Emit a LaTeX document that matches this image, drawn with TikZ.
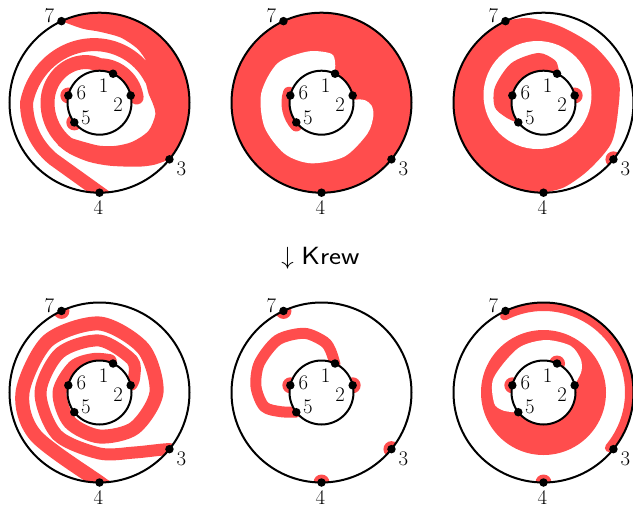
\documentclass[tikz,border=0pt]{standalone}
\usepackage{tikz}
\usepackage{graphicx}
\usepackage{xcolor}

\definecolor{blockred}{RGB}{255,77,77}

\tikzset{
  ring/.style={line width=2pt},
  pt/.style={circle,fill=black,inner sep=0pt,minimum size=8.5pt},
  lbl/.style={font=\huge,inner sep=0pt},
  blk/.style={fill=blockred},
  bump/.style={fill=blockred},
  band/.style={draw=blockred,line width=#1,line cap=round,line join=round},
}

% the annulus with its seven marked points
\newcommand{\annframe}[1]{%
  \fill[white] (0,0) circle (32);
  \draw[ring] (0,0) circle (90);
  \draw[ring] (0,0) circle (32);
  \node[pt] (#1-7) at (115:90) {};
  \node[pt] (#1-3) at (-39:90) {};
  \node[pt] (#1-4) at (-90:90) {};
  \node[pt] (#1-1) at (65:32) {};
  \node[pt] (#1-2) at (13:32) {};
  \node[pt] (#1-6) at (167:32) {};
  \node[pt] (#1-5) at (218:32) {};
  \node[lbl,xshift=-12pt,yshift=5.5pt] (#1-l7) at (#1-7) {7};
  \node[lbl,xshift=12pt,yshift=-9.5pt] (#1-l3) at (#1-3) {3};
  \node[lbl,xshift=-1pt,yshift=-15pt] (#1-l4) at (#1-4) {4};
  \node[lbl,xshift=-9.5pt,yshift=-12pt] (#1-l1) at (#1-1) {1};
  \node[lbl,xshift=-12.5pt,yshift=-9pt] (#1-l2) at (#1-2) {2};
  \node[lbl,xshift=13pt,yshift=2.5pt] (#1-l6) at (#1-6) {6};
  \node[lbl,xshift=11.5pt,yshift=5pt] (#1-l5) at (#1-5) {5};
}

\begin{document}
\begin{tikzpicture}[x=1pt,y=1pt]
\useasboundingbox (0,0) rectangle (633,-507);
%top left
\begin{scope}[shift={(99.5,-102.7)}]
\begin{scope}
\clip (0,0) circle (90);
\fill[blk] (115:90) -- (115:110) -- (60:110) -- (0:110) -- (-39:110) -- (-39:90)
  -- plot[smooth] coordinates {(70,-56.6) (55,-62) (38,-64) (10,-63) (-11,-59) (-30,-51) (-42,-42)}
  -- plot[smooth] coordinates {(-28,-35.5) (-14.4,-39.5) (0,-43) (15.7,-43.2) (32.8,-39.1) (48.9,-28.3) (55.8,-11.9) (53,0) (49.2,8.7) (46,21) (42,35)}
  -- plot[smooth] coordinates {(43:63) (55:66) (72:68.5) (90:71) (103:76) (115:90)} -- cycle;
\draw[band=13pt] plot[domain=25:180,samples=40] (\x:{56+17*((\x-45)/135)^2})
  arc[start angle=180,end angle=231,radius=73] -- (6,-94);
\draw[band=14pt] plot[domain=8:235,samples=60] (\x:{52-14.5*(min(1,max(0,(180-\x)/90)))^2});
\fill[bump] (167:32) circle (8);
\fill[bump] (218:32) circle (8);
\end{scope}
\annframe{tl}
\end{scope}
%top middle
\begin{scope}[shift={(321.5,-102.7)}]
\begin{scope}
\clip (0,0) circle (90);
\fill[blk] (0,0) circle (90);
\fill[white] (0,0) -- plot[smooth] coordinates {(66:32) (71:42) (79:50) (105:53) (138:59) (171:61) (203:62) (234:63) (260:61.5) (293:58.6) (326:55.4) (346:53.5) (357:50) (3:44) (5:38) (5:32)} -- cycle;
\draw[band=12pt] (163:34) arc[start angle=163,end angle=222,radius=34];
\end{scope}
\annframe{tm}
\end{scope}
%top right
\begin{scope}[shift={(543.5,-102.7)}]
\begin{scope}
\clip (0,0) circle (90);
\fill[blk] plot[smooth] coordinates {(-90:90) (-76:87) (-56:81) (-31:79) (-6:75) (19:79) (47:76) (77:78) (100:86) (115:90)}
  -- (115:130) -- (170:130) -- (220:130) -- (270:130) -- cycle;
\fill[white] (-6,7.7) circle (54);
\fill[blk] (0,0) -- plot[smooth] coordinates {(58:31) (66:37) (75:44) (96:50) (129:51) (162:51) (185:49) (200:41) (212:35) (219:31)} -- cycle;
\fill[bump] (13:32) circle (8);
\fill[bump] (-39:90) circle (8);
\end{scope}
\annframe{tr}
\end{scope}
%
\node[font=\Huge,anchor=base] (krew) at (320.5,-264) {$\downarrow$ \scalebox{1.15}[1]{\textsf{Krew}}};
%bottom left
\begin{scope}[shift={(99.5,-392.5)}]
\begin{scope}
\clip (0,0) circle (90);
\draw[band=14pt] plot[smooth] coordinates {(6,-94) (0,-90) (-146:77) (180:77) (135:73) (90:69) (45:62) (0:57) (-45:50) (-90:44) (-135:42) (180:40) (135:36) (100:33) (72:33)};
\draw[band=12pt] plot[smooth] coordinates {(-39:97) (-39:90) (35,-60) (0,-61) (-135:60) (180:59) (135:56) (90:52) (45:46) (24:38) (14:33)};
\fill[bump] (115:90) circle (8);
\end{scope}
\annframe{bl}
\end{scope}
%bottom middle
\begin{scope}[shift={(321.5,-392.5)}]
\begin{scope}
\clip (0,0) circle (90);
\draw[band=11pt] plot[smooth] coordinates {(64:31) (9.5,41) (2.8,50.8) (-17.2,59.2) (-43.8,52.5) (-62.2,29.2) (-65.5,5.8) (-57.2,-14.2) (-40.5,-19.2) (-25,-19.5)};
\fill[bump] (115:90) circle (8);
\fill[bump] (-39:90) circle (8);
\fill[bump] (-90:90) circle (8);
\fill[bump] (167:32) circle (8);
\fill[bump] (13:32) circle (8);
\end{scope}
\annframe{bm}
\end{scope}
%bottom right
\begin{scope}[shift={(543.5,-392.5)}]
\begin{scope}
\clip (0,0) circle (90);
\fill[blk] (0,0) circle (62.5);
\fill[white] (0,0) -- plot[smooth] coordinates {(12:31) (20:36) (30:44) (42:50) (60:54) (88:52.5) (120:51) (164:52) (192:50.5) (203:45) (212:37) (219:31)} -- cycle;
\draw[band=9pt] (117:86) arc[start angle=117,end angle=-40,radius=86];
\fill[bump] (167:32) circle (8);
\fill[bump] (65:32) circle (8);
\fill[bump] (-90:90) circle (8);
\end{scope}
\annframe{br}
\end{scope}
\end{tikzpicture}
\end{document}
